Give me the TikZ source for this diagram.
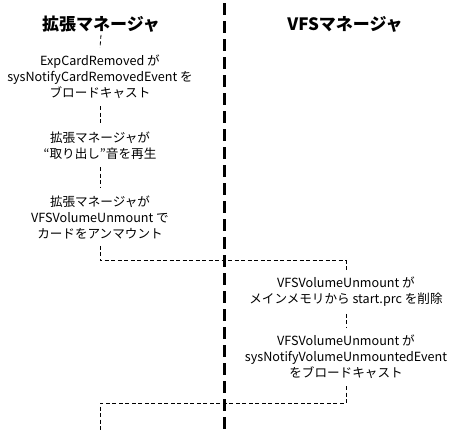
\documentclass[tikz,border=0pt]{standalone}
\usepackage{fontspec}
\setmainfont{Noto Sans CJK JP}
\begin{document}
\begin{tikzpicture}[x=1pt,y=-1pt,
  txt/.style={align=center,inner xsep=0pt,inner ysep=7pt,font=\fontsize{12.6}{16}\selectfont},
  ttl/.style={inner sep=2.5pt,font=\fontsize{17}{20}\selectfont\bfseries},
  conn/.style={line width=0.8pt,dash pattern=on 4pt off 2.5pt},
  lane/.style={line width=3pt,dash pattern=on 12pt off 6pt}]
\useasboundingbox (0,0) rectangle (461,447);
\coordinate (ltop) at (224.5,3);
\coordinate (lbot) at (224.5,434);
\draw[lane] (ltop) -- (lbot);
\node[ttl] (t1) at (101,24) {拡張マネージャ};
\node[ttl] (t2) at (345,24) {VFSマネージャ};
\node[txt] (b1) at (100,77) {ExpCardRemoved が\\sysNotifyCardRemovedEvent を\\ブロードキャスト};
\node[txt] (b2) at (100,146) {拡張マネージャが\\“取り出し”音を再生};
\node[txt] (b3) at (100,217) {拡張マネージャが\\VFSVolumeUnmount で\\カードをアンマウント};
\node[txt] (b4) at (346,292) {VFSVolumeUnmount が\\メインメモリから start.prc を削除};
\node[txt] (b5) at (346,357) {VFSVolumeUnmount が\\sysNotifyVolumeUnmountedEvent\\をブロードキャスト};
\coordinate (e) at (100,432);
\draw[conn] (t1.south) -- (b1.north);
\draw[conn] (b1.south) -- (b2.north);
\draw[conn] (b2.south) -- (b3.north);
\draw[conn] (b3.south) -- ++(0,15) -| (b4.north);
\draw[conn] (b4.south) -- (b5.north);
\draw[conn] (b5.south) -- ++(0,17) -| (e);
\end{tikzpicture}
\end{document}
